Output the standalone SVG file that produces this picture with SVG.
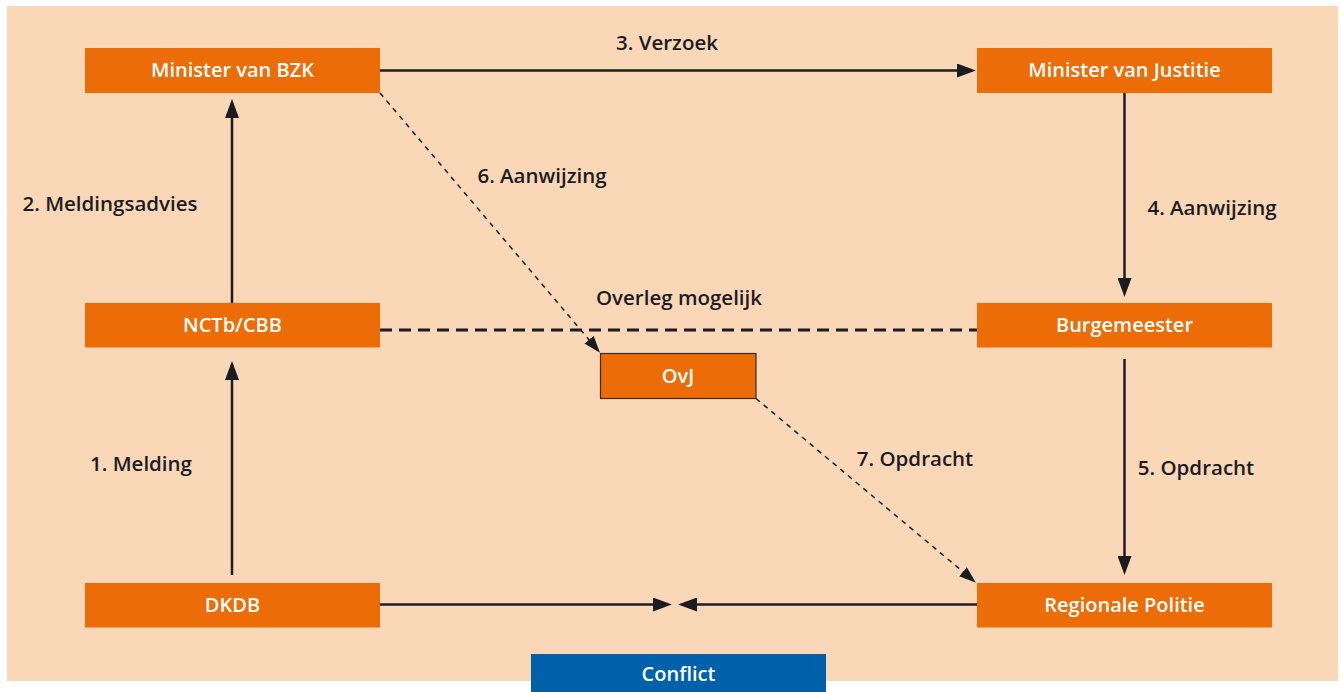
<svg xmlns="http://www.w3.org/2000/svg" width="1341" height="692" viewBox="0 0 1341 692">
<defs>
<style>
.bg{fill:#fad7b7}
.node{fill:#ec6d08}
.ovj{fill:#ec6d08;stroke:#3a2a20;stroke-width:1.2}
.conflict{fill:#0060aa}
.nt{font-family:"Open Sans","Noto Sans",sans-serif;font-weight:600;font-size:20px;fill:#ffffff;text-anchor:middle}
.lt{font-family:"Open Sans","Noto Sans",sans-serif;font-weight:600;font-size:20.5px;fill:#1c1b22;text-anchor:middle}
.solid{stroke:#1c1b22;stroke-width:2.5;fill:none}
.dash{stroke:#1c1b22;stroke-width:2.8;fill:none;stroke-dasharray:12 7}
.dot{stroke:#1c1b22;stroke-width:1.5;fill:none;stroke-dasharray:5 5}
</style>
<marker id="ah" markerUnits="userSpaceOnUse" markerWidth="20" markerHeight="14" refX="15" refY="7" orient="auto">
<path d="M0,0 L19,7 L0,14 z" fill="#1c1b22"/>
</marker>
<marker id="ahs" markerUnits="userSpaceOnUse" markerWidth="18" markerHeight="12" refX="13" refY="6" orient="auto">
<path d="M0,0 L17,6 L0,12 z" fill="#1c1b22"/>
</marker>
</defs>
<rect x="0" y="0" width="1341" height="692" fill="#ffffff"/>
<rect class="bg" x="7" y="6" width="1331" height="675"/>

<g id="connectors">
<line class="solid" x1="232" y1="575" x2="232" y2="365" marker-end="url(#ah)"/>
<line class="solid" x1="232" y1="303" x2="232" y2="103" marker-end="url(#ah)"/>
<line class="solid" x1="380" y1="70.5" x2="972" y2="70.5" marker-end="url(#ah)"/>
<line class="solid" x1="1124.5" y1="93" x2="1124.5" y2="293" marker-end="url(#ah)"/>
<line class="solid" x1="1124.5" y1="359" x2="1124.5" y2="571" marker-end="url(#ah)"/>
<line class="solid" x1="380" y1="604.5" x2="668" y2="604.5" marker-end="url(#ah)"/>
<line class="solid" x1="977" y1="604.5" x2="682" y2="604.5" marker-end="url(#ah)"/>
<line class="dash" x1="380" y1="330" x2="977" y2="330"/>
<line class="dot" x1="380" y1="93" x2="597.4" y2="349.6" marker-end="url(#ahs)"/>
<line class="dot" x1="756" y1="398.5" x2="972.9" y2="580.1" marker-end="url(#ahs)"/>
</g>

<g id="labels">
<text class="lt" x="667" y="50">3. Verzoek</text>
<text class="lt" x="110" y="211">2. Meldingsadvies</text>
<text class="lt" x="542" y="183">6. Aanwijzing</text>
<text class="lt" x="1212" y="215">4. Aanwijzing</text>
<text class="lt" x="679" y="305">Overleg mogelijk</text>
<text class="lt" x="141" y="471">1. Melding</text>
<text class="lt" x="915" y="466">7. Opdracht</text>
<text class="lt" x="1196" y="475">5. Opdracht</text>
</g>

<g id="node-bzk"><rect class="node" x="85" y="48" width="295" height="45"/><text class="nt" x="232.5" y="77">Minister van BZK</text></g>
<g id="node-justitie"><rect class="node" x="977" y="48" width="295" height="45"/><text class="nt" x="1124.5" y="77">Minister van Justitie</text></g>
<g id="node-nctb"><rect class="node" x="85" y="303" width="295" height="44.5"/><text class="nt" x="232.5" y="332">NCTb/CBB</text></g>
<g id="node-burgemeester"><rect class="node" x="977" y="303" width="295" height="44.5"/><text class="nt" x="1124.5" y="332">Burgemeester</text></g>
<g id="node-ovj"><rect class="ovj" x="600.5" y="353.5" width="155.5" height="45"/><text class="nt" x="678" y="382.5">OvJ</text></g>
<g id="node-dkdb"><rect class="node" x="85" y="583" width="295" height="44.5"/><text class="nt" x="232.5" y="612">DKDB</text></g>
<g id="node-politie"><rect class="node" x="977" y="583" width="295" height="44.5"/><text class="nt" x="1124.5" y="612">Regionale Politie</text></g>
<g id="node-conflict"><rect class="conflict" x="531" y="654" width="295" height="38"/><text class="nt" x="678.5" y="680.5">Conflict</text></g>
</svg>
